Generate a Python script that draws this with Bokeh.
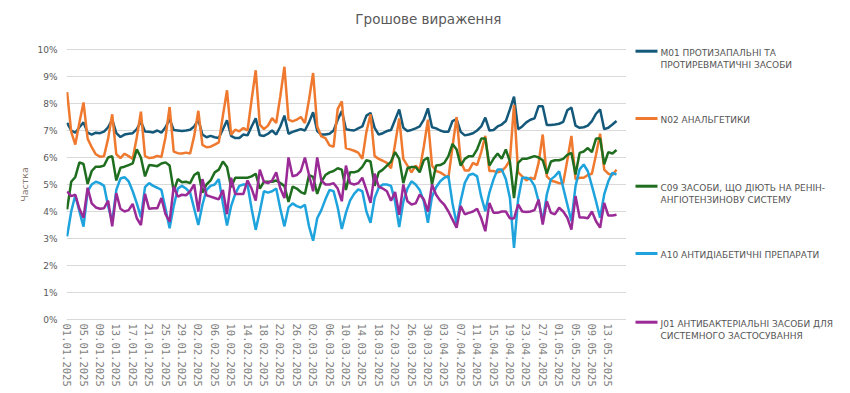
import pandas as pd
from bokeh.plotting import figure
from bokeh.layouts import column, row
from bokeh.models import ColumnDataSource, Range1d, FixedTicker
from bokeh.core.properties import value
from bokeh.embed import file_html
from bokeh.resources import INLINE

TITLE = "Грошове  вираження"
Y_LABEL = "Частка"

SERIES = ["M01", "N02", "C09", "A10", "J01"]
LEGEND_LINES = [
    ["M01  ПРОТИЗАПАЛЬНІ  ТА", "ПРОТИРЕВМАТИЧНІ  ЗАСОБИ"],
    ["N02  АНАЛЬГЕТИКИ"],
    ["C09  ЗАСОБИ,  ЩО  ДІЮТЬ  НА  РЕНІН-", "АНГІОТЕНЗИНОВУ  СИСТЕМУ"],
    ["A10  АНТИДІАБЕТИЧНІ  ПРЕПАРАТИ"],
    ["J01  АНТИБАКТЕРІАЛЬНІ  ЗАСОБИ  ДЛЯ", "СИСТЕМНОГО  ЗАСТОСУВАННЯ"],
]
COLORS = ["#14587a", "#ef7a2f", "#1f6e1f", "#1ea3dd", "#9a2a96"]

# daily shares, %, from 01.01.2025
M01 = [
    7.28, 7.00, 6.92, 7.12, 7.30,
    6.92, 6.85, 6.92, 6.90, 6.96, 7.12, 7.40,
    6.90, 6.76, 6.85, 6.88, 6.90, 7.05, 7.33,
    6.96, 6.95, 6.93, 7.00, 6.92, 7.12, 7.42,
    7.02, 7.00, 6.98, 7.00, 7.03, 7.15, 7.40,
    6.85, 6.75, 6.80, 6.75, 6.72, 7.05, 7.38,
    6.80, 6.72, 6.72, 6.85, 6.82, 7.15, 7.45,
    6.82, 6.80, 6.88, 7.00, 6.85, 7.15, 7.55,
    6.88, 6.95, 7.00, 7.05, 7.00, 7.30, 7.68,
    6.98, 6.85, 6.85, 6.88, 7.00, 7.40, 7.72,
    7.05, 7.02, 7.00, 7.08, 7.15, 7.55, 7.65,
    7.10, 6.85, 6.90, 6.98, 7.02, 7.40, 7.78,
    7.10, 6.98, 7.02, 7.08, 7.15, 7.40, 7.82,
    7.12, 7.08, 7.00, 6.95, 6.95, 7.35, 7.42,
    6.95, 6.82, 6.85, 6.90, 7.00, 7.15, 7.48,
    7.00, 7.02, 7.15, 7.22, 7.35, 7.78, 8.25,
    7.05, 7.15, 7.30, 7.40, 7.45, 7.90, 7.90,
    7.20, 7.20, 7.22, 7.25, 7.32, 7.75, 7.85,
    7.18, 7.10, 7.12, 7.18, 7.35, 7.62, 7.78,
    7.05, 7.10, 7.22, 7.35,
]
N02 = [
    8.42, 6.95, 6.48, 7.30, 8.04,
    6.70, 6.38, 6.12, 6.03, 6.05, 6.70, 7.60,
    6.12, 5.98, 6.14, 6.05, 5.95, 6.75, 7.70,
    6.05, 5.98, 6.00, 6.06, 6.02, 6.75, 7.87,
    6.22, 6.16, 6.15, 6.18, 6.15, 6.80, 7.73,
    6.47, 6.38, 6.40, 6.48, 6.56, 7.55, 8.49,
    6.84, 7.03, 6.97, 7.09, 7.00, 8.14, 9.23,
    7.22, 7.05, 7.18, 7.46, 7.28, 8.27, 9.36,
    7.40, 7.34, 7.40, 7.50, 7.28, 8.14, 9.13,
    7.15, 6.78, 6.72, 6.45, 6.40, 7.80, 8.08,
    6.35, 6.30, 6.25, 6.18, 5.95, 6.95, 7.60,
    6.05, 5.95, 5.88, 5.80, 5.60, 6.50, 7.45,
    5.95, 5.70, 5.45, 5.70, 5.55, 6.40, 7.40,
    5.70, 5.50, 5.45, 5.35, 5.25, 6.40, 7.50,
    5.85, 5.52, 5.52, 5.80, 5.72, 6.20, 6.80,
    5.50, 5.50, 5.45, 5.50, 5.65, 5.90, 7.95,
    5.45, 5.30, 5.15, 5.25, 5.20, 5.80, 6.85,
    5.30, 5.15, 5.10, 5.05, 5.05, 5.90, 6.80,
    5.20, 5.25, 5.25, 5.35, 5.40, 6.10, 6.88,
    5.55, 5.40, 5.35, 5.55,
]
C09 = [
    4.08, 5.10, 5.28, 5.82, 5.76,
    5.02, 5.50, 5.66, 5.66, 5.70, 6.00, 6.05,
    5.15, 5.62, 5.66, 5.72, 5.78, 6.30, 6.00,
    5.30, 5.72, 5.70, 5.68, 5.78, 5.82, 5.70,
    4.75, 5.20, 5.08, 5.10, 5.05, 5.35, 5.45,
    4.70, 5.00, 5.15, 5.45, 5.55, 5.85, 5.65,
    4.90, 5.25, 5.25, 5.25, 5.25, 5.30, 5.40,
    4.85, 5.10, 5.10, 5.10, 5.15, 5.05, 4.95,
    4.35, 4.92, 4.85, 4.72, 4.65, 5.35, 5.28,
    4.65, 5.10, 5.35, 5.45, 5.50, 5.60, 5.55,
    4.80, 5.45, 5.45, 5.50, 5.65, 5.90, 5.85,
    4.95, 5.45, 5.55, 5.70, 5.85, 6.20, 5.95,
    5.05, 5.60, 5.65, 5.65, 5.45, 5.90, 6.00,
    5.00, 5.70, 5.72, 5.80, 6.05, 6.50, 6.30,
    5.70, 5.95, 6.05, 6.05, 6.30, 6.70, 6.70,
    5.70, 5.95, 6.15, 5.95, 6.30, 5.85, 4.50,
    5.80, 5.95, 5.95, 6.00, 6.05, 6.00, 5.90,
    5.40, 5.85, 5.90, 5.90, 5.95, 6.10, 6.17,
    5.37, 6.17, 6.22, 6.35, 6.20, 6.70, 6.70,
    5.75, 6.20, 6.15, 6.28,
]
A10 = [
    3.08, 4.00, 4.60, 4.00, 3.44,
    4.75, 5.00, 5.10, 5.05, 4.95, 4.20, 3.62,
    4.80, 5.22, 5.27, 5.12, 4.75, 4.30, 3.78,
    4.90, 5.05, 4.95, 4.88, 4.80, 4.10, 3.38,
    4.20, 4.85, 4.95, 4.85, 4.70, 4.10, 3.50,
    4.25, 4.80, 4.95, 5.00, 5.20, 4.30, 3.48,
    4.20, 4.65, 4.95, 5.00, 5.00, 4.10, 3.32,
    4.00, 4.75, 4.70, 4.75, 4.85, 4.10, 3.45,
    4.15, 4.30, 4.20, 4.15, 4.25, 3.45, 2.92,
    3.75, 4.05, 4.45, 4.80, 4.75, 4.15, 3.35,
    3.95, 4.40, 4.65, 4.82, 4.75, 4.00, 3.58,
    4.50, 4.88, 5.00, 5.00, 4.95, 4.36, 3.42,
    4.36, 4.85, 5.12, 5.00, 4.80, 4.38, 3.58,
    4.55, 4.90, 5.12, 5.25, 5.31, 4.30, 3.55,
    4.40, 5.06, 5.35, 5.40, 5.30, 4.55, 4.01,
    4.70, 5.19, 5.56, 5.56, 5.20, 4.50, 2.65,
    4.45, 5.25, 5.25, 5.19, 4.95, 4.38, 3.64,
    4.63, 5.19, 5.31, 5.49, 4.88, 4.26, 3.64,
    4.94, 5.56, 5.74, 5.49, 4.95, 4.38, 3.77,
    4.63, 5.12, 5.43, 5.37,
]
J01 = [
    4.74, 4.57, 4.62, 4.10, 3.77,
    4.88, 4.30, 4.15, 4.10, 4.12, 4.40, 3.45,
    4.68, 4.10, 4.00, 4.05, 4.28, 3.75, 3.50,
    4.65, 4.10, 4.12, 4.12, 4.50, 3.90, 3.62,
    4.93, 4.55, 4.62, 4.60, 4.75, 5.00, 4.00,
    5.20, 4.60, 4.55, 4.50, 4.45, 4.80, 3.90,
    5.25, 4.65, 4.65, 4.65, 5.15, 4.85, 4.40,
    5.55, 5.10, 5.05, 5.15, 5.45, 4.85, 4.50,
    6.00, 5.30, 5.35, 5.50, 6.00, 5.35, 4.75,
    6.00, 5.15, 5.00, 5.00, 5.05, 4.85, 4.38,
    5.70, 5.05, 5.00, 5.05, 5.25, 4.80, 4.32,
    5.40, 4.92, 4.85, 4.75, 4.40, 4.72, 3.88,
    5.00, 4.38, 4.26, 4.30, 4.63, 4.45, 4.00,
    5.00, 4.62, 4.40, 4.25, 4.00, 3.70, 3.40,
    4.20, 3.90, 3.95, 4.00, 4.10, 3.75, 3.27,
    4.32, 3.95, 3.95, 4.00, 4.00, 3.75, 3.74,
    4.26, 4.00, 3.98, 4.00, 4.05, 4.44, 3.52,
    4.38, 3.95, 3.90, 4.14, 4.00, 3.77, 3.33,
    4.57, 3.78, 3.78, 3.75, 4.00, 3.64, 3.40,
    4.32, 3.85, 3.85, 3.88,
]

N = len(M01)
DATES = [d.strftime("%d.%m.%Y") for d in pd.date_range("2025-01-01", periods=N)]
TICK_STEP = 4
Y_TICKS = list(range(0, 11))

source = ColumnDataSource(dict(day=list(range(N)), M01=M01, N02=N02, C09=C09, A10=A10, J01=J01))

TEXT_GREY = "#595959"

# layout geometry (pixels)
TITLE_H = 38
BORDER_TOP = 10
FRAME_H = 272
BORDER_BOTTOM = 72
FRAME_LEFT = 66
FRAME_W = 560
CHART_H = BORDER_TOP + FRAME_H + BORDER_BOTTOM
LEGEND_W = 850 - (FRAME_LEFT + FRAME_W)

# ---- title strip ----
t = figure(width=850, height=TITLE_H, x_range=Range1d(0, 850), y_range=Range1d(TITLE_H, 0),
           x_axis_type=None, y_axis_type=None, output_backend="svg",
           toolbar_location=None, min_border=0)
t.outline_line_color = None
t.text(x=[430], y=[18], text=[TITLE], text_align="center", text_baseline="middle",
       text_font=value("DejaVu Sans"), text_font_size="13.5px", text_color=TEXT_GREY)

# ---- main chart ----
px_per_day = 4.1
x0 = -0.15
p = figure(width=FRAME_LEFT + FRAME_W, height=CHART_H,
           x_range=Range1d(x0, x0 + FRAME_W / px_per_day),
           y_range=Range1d(-1 / 27, 10 + 1 / 27),
           output_backend="svg", toolbar_location=None,
           min_border_left=FRAME_LEFT, min_border_right=0,
           min_border_top=BORDER_TOP, min_border_bottom=BORDER_BOTTOM)
p.outline_line_color = None
p.xgrid.grid_line_color = None
p.ygrid.grid_line_color = "#d9d9d9"
p.ygrid.grid_line_width = 1

for name, col in zip(SERIES, COLORS):
    p.line("day", name, source=source, line_width=2.5, line_color=col)

p.yaxis.ticker = FixedTicker(ticks=Y_TICKS)
p.yaxis.major_label_overrides = {v: f"{v}%" for v in Y_TICKS}
p.xaxis.ticker = FixedTicker(ticks=list(range(0, N, TICK_STEP)))
p.xaxis.major_label_overrides = {i: DATES[i] for i in range(0, N, TICK_STEP)}
p.xaxis.major_label_orientation = "vertical"

for ax in (p.xaxis[0], p.yaxis[0]):
    ax.axis_line_color = None
    ax.major_tick_line_color = None
    ax.minor_tick_line_color = None
    ax.major_tick_out = 0
    ax.major_tick_in = 0
    ax.minor_tick_out = 0
    ax.minor_tick_in = 0

p.xaxis.major_label_text_font = "DejaVu Sans Mono"
p.xaxis.major_label_text_font_size = "10.5px"
p.xaxis.major_label_text_color = "#808080"
p.xaxis.major_label_standoff = 3

p.yaxis.major_label_text_font = "DejaVu Sans"
p.yaxis.major_label_text_font_size = "9px"
p.yaxis.major_label_text_color = TEXT_GREY
p.yaxis.major_label_standoff = 9
p.yaxis.axis_label = Y_LABEL
p.yaxis.axis_label_text_font = "DejaVu Sans"
p.yaxis.axis_label_text_font_size = "9.5px"
p.yaxis.axis_label_text_font_style = "normal"
p.yaxis.axis_label_text_color = "#8a7a70"
p.yaxis.axis_label_standoff = 4

# ---- legend strip (same vertical frame as the chart; local y = page y - frame top) ----
frame_top_page = TITLE_H + BORDER_TOP
lg = figure(width=LEGEND_W, height=CHART_H, x_range=Range1d(0, LEGEND_W),
            y_range=Range1d(FRAME_H, 0),
            x_axis_type=None, y_axis_type=None, output_backend="svg",
            toolbar_location=None, min_border_left=0, min_border_right=0,
            min_border_top=BORDER_TOP, min_border_bottom=BORDER_BOTTOM)
lg.outline_line_color = None
item_page_y = [50.7, 118.0, 185.7, 253.0, 321.7]
line_gap = 12.5
for yy, col, lines in zip(item_page_y, COLORS, LEGEND_LINES):
    yl = yy - frame_top_page
    lg.segment(x0=[9], y0=[yl], x1=[31], y1=[yl], line_color=col, line_width=3,
               level="overlay")
    lg.text(x=[34] * len(lines), y=[yl + 1.5 + k * line_gap for k in range(len(lines))],
            text=lines, text_align="left", text_baseline="middle",
            text_font=value("DejaVu Sans"), text_font_size="9px", text_color="#555555",
            level="overlay")

layout = column(t, row(p, lg))
open("out.html", "w").write(file_html(layout, INLINE))
